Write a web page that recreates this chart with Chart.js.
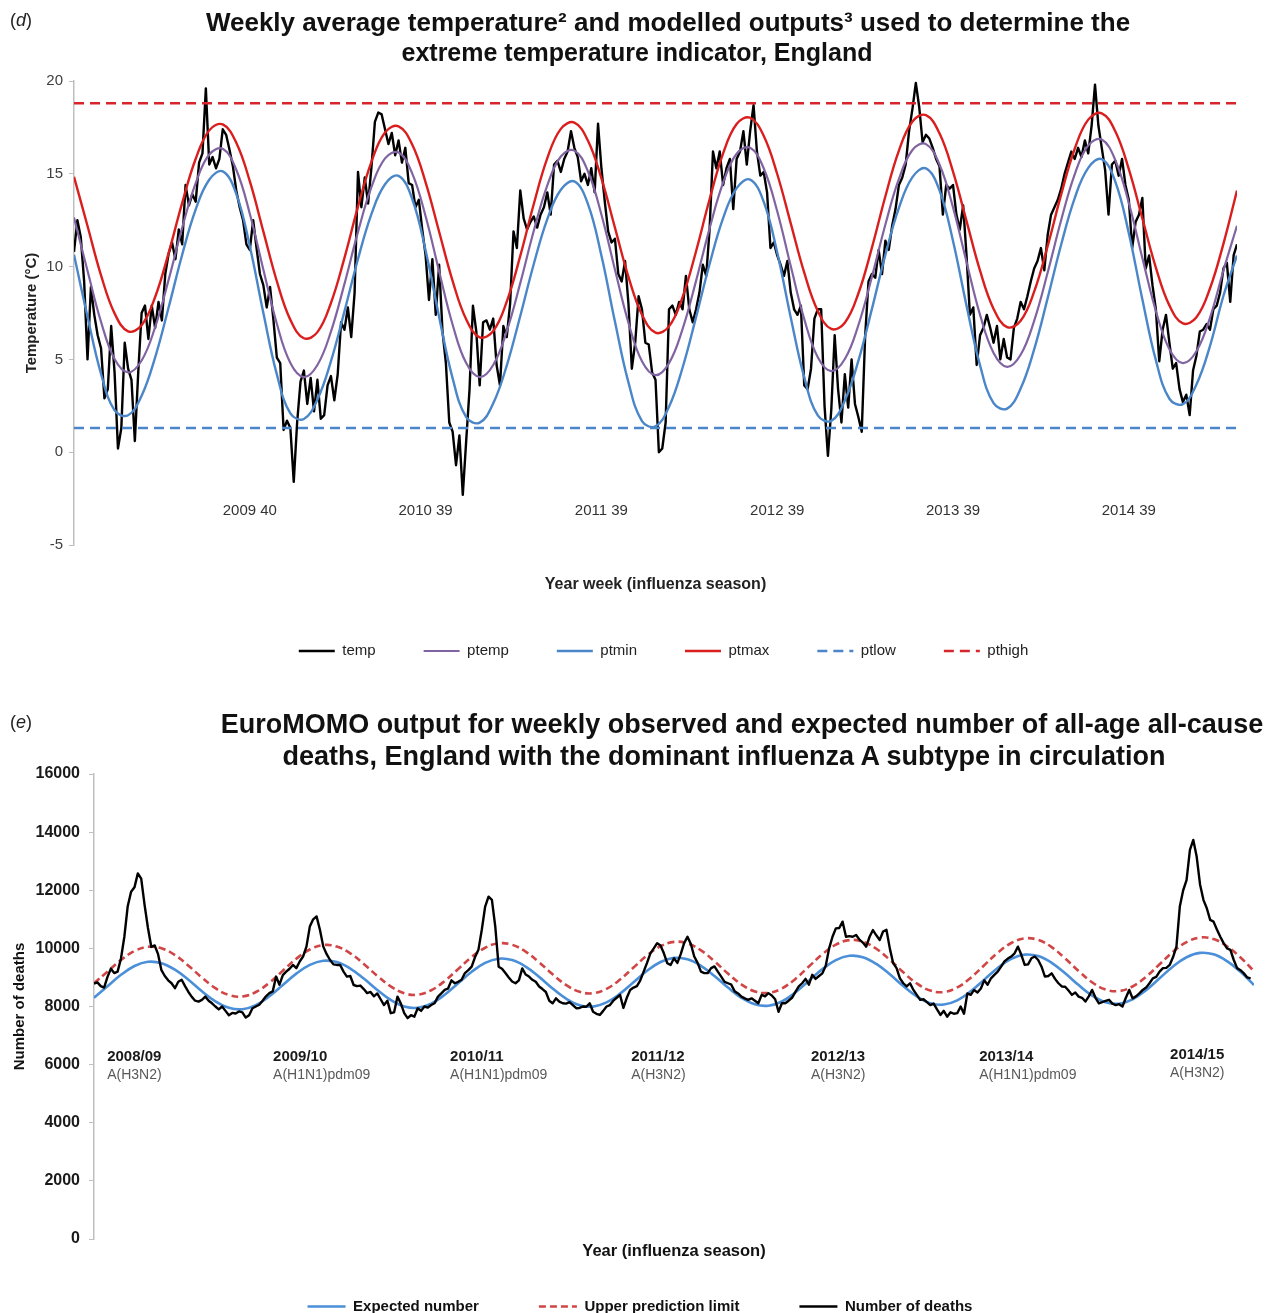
<!DOCTYPE html>
<html>
<head>
<meta charset="utf-8">
<script src="https://cdn.jsdelivr.net/npm/chart.js@4.4.1/dist/chart.umd.min.js"></script>
<style>
  html, body { margin: 0; padding: 0; background: #fff; overflow: hidden; width: 1273px; height: 1313px; }
  canvas { position: absolute; left: 0; }
  .title { position: absolute; left: 0; font-family: "Liberation Sans", Arial, sans-serif; font-weight: bold;
           color: #111; white-space: nowrap; text-align: center; }
  .tag { position: absolute; left: 10px; font-family: "Liberation Sans", Arial, sans-serif; font-size: 18px;
         color: #222; line-height: 22px; }
</style>
</head>
<body>
<canvas id="tempChart" width="1327" height="690" style="top:0"></canvas>
<canvas id="deathChart" width="1280" height="634" style="top:690px"></canvas>

<div class="tag" style="top:9px">(<i>d</i>)</div>
<div class="title" style="top:7px; width:1336px; font-size:26px; line-height:30px">Weekly average temperature² and modelled outputs³ used to determine the</div>
<div class="title" style="top:37px; width:1274px; font-size:25px; line-height:30px">extreme temperature indicator, England</div>

<div class="tag" style="top:711px">(<i>e</i>)</div>
<div class="title" style="top:708px; width:1484px; font-size:27px; line-height:32px">EuroMOMO output for weekly observed and expected number of all-age all-cause</div>
<div class="title" style="top:740px; width:1448px; font-size:27px; line-height:32px">deaths, England with the dominant influenza A subtype in circulation</div>

<script>
// ---- (d) weekly temperature, index 0 = 2008 week 40 ----
const temp = [
  10.8, 12.5, 11.6, 9.2, 5.0, 8.9, 7.4, 6.3, 5.6, 2.9,
  3.4, 6.8, 4.3, 0.2, 1.3, 5.9, 4.5, 3.9, 0.6, 4.3,
  7.5, 7.9, 6.1, 7.9, 6.7, 8.1, 7.1, 9.6, 10.7, 11.3,
  10.4, 12.0, 11.2, 14.4, 13.3, 13.9, 13.5, 15.6, 16.1, 19.6,
  15.5, 15.9, 15.3, 15.8, 17.4, 17.1, 16.3, 15.4, 14.1, 13.2,
  12.5, 11.2, 10.9, 12.5, 11.0, 9.6, 9.0, 7.8, 8.9, 7.1,
  5.1, 4.8, 1.2, 1.7, 1.3, -1.6, 1.6, 3.8, 4.4, 2.6,
  4.0, 2.2, 3.9, 1.8, 2.0, 3.6, 4.1, 2.8, 4.2, 7.0,
  6.6, 7.8, 6.2, 8.6, 15.1, 13.2, 14.8, 13.4, 15.4, 17.8,
  18.3, 18.2, 17.4, 16.6, 17.2, 16.0, 16.8, 15.6, 16.4, 14.5,
  14.4, 13.2, 13.6, 12.0, 10.6, 8.2, 10.4, 7.4, 10.1, 6.5,
  4.8, 1.6, 1.1, -0.7, 0.9, -2.3, 0.6, 3.4, 7.9, 6.5,
  3.6, 7.0, 7.1, 6.6, 7.2, 4.7, 3.6, 6.8, 6.2, 8.0,
  11.9, 11.0, 14.1, 12.6, 12.0, 12.4, 12.7, 12.1, 12.8, 13.2,
  14.0, 12.8, 15.5, 15.7, 15.1, 15.8, 16.2, 17.3, 16.4, 15.9,
  14.6, 15.0, 14.4, 15.3, 14.0, 17.7, 15.3, 13.5, 11.9, 11.3,
  11.5, 9.6, 9.2, 10.3, 8.0, 4.5, 5.9, 8.4, 7.7, 5.9,
  5.8, 4.3, 3.9, 0.0, 0.2, 1.6, 7.7, 7.9, 7.4, 8.1,
  7.7, 9.5, 7.7, 7.0, 7.7, 8.6, 10.1, 9.5, 12.0, 16.2,
  15.3, 16.2, 14.4, 15.3, 15.8, 13.1, 15.8, 16.2, 17.3, 15.5,
  17.3, 18.7, 16.2, 14.9, 15.1, 14.0, 11.0, 11.3, 10.6, 10.1,
  9.5, 10.3, 8.6, 7.7, 7.4, 7.9, 3.6, 3.4, 4.5, 7.2,
  7.7, 7.7, 2.5, -0.2, 2.3, 6.3, 3.4, 1.6, 4.2, 2.4,
  5.0, 2.6, 1.9, 1.1, 6.2, 9.2, 9.6, 9.4, 10.9, 9.6,
  11.4, 10.9, 12.2, 13.1, 14.4, 14.8, 15.5, 17.3, 18.5, 19.9,
  18.6, 16.7, 17.1, 16.9, 16.4, 15.8, 15.4, 12.8, 14.4, 14.2,
  14.4, 12.8, 12.0, 13.3, 10.6, 7.4, 7.8, 4.7, 6.3, 6.7,
  7.4, 6.7, 5.9, 6.8, 5.0, 6.1, 5.1, 5.0, 6.7, 7.2,
  8.1, 7.7, 8.4, 9.2, 9.9, 10.3, 11.0, 9.8, 11.7, 12.8,
  13.2, 13.6, 14.2, 15.0, 15.6, 16.2, 15.8, 16.4, 15.9, 16.8,
  16.1, 17.6, 19.8, 17.6, 16.4, 15.2, 12.8, 15.5, 15.7, 14.9,
  15.8, 14.4, 13.6, 11.0, 12.4, 12.8, 13.7, 9.9, 10.6, 9.0,
  7.7, 4.9, 6.6, 7.4, 5.9, 4.5, 4.8, 3.4, 2.7, 3.1,
  2.0, 4.4, 5.2, 6.5, 6.6, 6.9, 6.6, 7.7, 7.9, 8.6,
  9.9, 10.2, 8.1, 10.6, 11.2
];

// modelled curves, read every 4th week (plus the last week)
const modelWeeks = Array.from({ length: 86 }, (_, i) => i * 4).concat([344]);
const ptemp = [
  12.64, 9.78, 7.02, 5.02, 4.30, 4.94, 6.74, 9.30, 12.09, 14.50, 16.04, 16.35, 15.22,
  12.85, 9.84, 6.92, 4.81, 4.05, 4.70, 6.50, 9.07, 11.87, 14.29, 15.83, 16.15, 15.04,
  12.71, 9.74, 6.87, 4.80, 4.05, 4.70, 6.52, 9.11, 11.93, 14.38, 15.93, 16.25, 15.14,
  12.81, 9.84, 6.97, 4.90, 4.15, 4.80, 6.63, 9.23, 12.06, 14.52, 16.08, 16.40, 15.30,
  12.98, 10.03, 7.17, 5.12, 4.37, 5.02, 6.84, 9.44, 12.27, 14.72, 16.28, 16.60, 15.50,
  13.19, 10.25, 7.40, 5.35, 4.60, 5.25, 7.08, 9.68, 12.51, 14.97, 16.53, 16.85, 15.74,
  13.43, 10.47, 7.61, 5.55, 4.80, 5.44, 7.24, 9.80, 12.2
];
const ptmin = [
  10.64, 7.30, 4.22, 2.26, 1.99, 3.04, 5.11, 7.81, 10.64, 13.08, 14.68, 15.13, 13.92,
  11.10, 7.51, 4.19, 2.09, 1.79, 2.84, 4.90, 7.59, 10.41, 12.84, 14.44, 14.89, 13.67,
  10.87, 7.29, 3.98, 1.89, 1.59, 2.63, 4.67, 7.34, 10.14, 12.56, 14.14, 14.59, 13.38,
  10.60, 7.04, 3.76, 1.68, 1.39, 2.45, 4.55, 7.28, 10.14, 12.61, 14.23, 14.69, 13.50,
  10.76, 7.26, 4.03, 1.98, 1.69, 2.78, 4.92, 7.71, 10.64, 13.16, 14.82, 15.29, 14.11,
  11.38, 7.89, 4.68, 2.64, 2.35, 3.43, 5.54, 8.30, 11.19, 13.69, 15.32, 15.79, 14.58,
  11.80, 8.24, 4.96, 2.88, 2.59, 3.65, 5.72, 8.43, 10.6
];
const ptmax = [
  14.84, 12.19, 9.53, 7.48, 6.51, 6.84, 8.36, 10.74, 13.43, 15.81, 17.34, 17.66, 16.67,
  14.60, 11.90, 9.21, 7.13, 6.14, 6.47, 8.04, 10.47, 13.23, 15.66, 17.23, 17.56, 16.59,
  14.54, 11.88, 9.22, 7.16, 6.19, 6.53, 8.11, 10.58, 13.37, 15.84, 17.42, 17.76, 16.79,
  14.75, 12.10, 9.45, 7.41, 6.44, 6.78, 8.36, 10.83, 13.63, 16.10, 17.68, 18.02, 17.05,
  14.99, 12.33, 9.67, 7.61, 6.64, 6.98, 8.55, 11.01, 13.79, 16.25, 17.82, 18.16, 17.18,
  15.12, 12.45, 9.78, 7.72, 6.74, 7.08, 8.65, 11.11, 13.89, 16.35, 17.92, 18.26, 17.29,
  15.25, 12.60, 9.95, 7.91, 6.94, 7.27, 8.82, 11.24, 14.1
];
const ptlow = 1.3;
const pthigh = 18.8;

const tickWeeks = [52, 104, 156, 208, 260, 312];
const tickLabels = ['2009 40', '2010 39', '2011 39', '2012 39', '2013 39', '2014 39'];

// ---- (e) EuroMOMO weekly deaths ----
const deaths = [
  8790, 8830, 8700, 8650, 9020, 9300, 9150, 9200, 9650, 10400,
  11450, 11950, 12100, 12580, 12400, 11500, 10700, 10050, 10100, 9800,
  9250, 9050, 8900, 8800, 8630, 8850, 8920, 8700, 8500, 8330,
  8200, 8170, 8230, 8340, 8200, 8110, 8000, 7900, 8000, 7850,
  7700, 7780, 7760, 7830, 7800, 7620, 7700, 7940, 8000, 8060,
  8200, 8350, 8460, 8520, 9030, 8750, 9080, 9200, 9300, 9430,
  9320, 9550, 9720, 10060, 10750, 11000, 11100, 10640, 10060, 9800,
  9600, 9450, 9430, 9430, 9200, 9030, 9050, 8740, 8700, 8720,
  8600, 8460, 8500, 8350, 8450, 8250, 8050, 8200, 7770, 7800,
  8340, 8100, 7770, 7600, 7700, 7650, 7940, 7850, 8000, 7960,
  8050, 8110, 8340, 8450, 8570, 8620, 8900, 8800, 8850, 8920,
  9150, 9250, 9370, 9700, 9950, 10640, 11440, 11780, 11670, 10750,
  9370, 9300, 9150, 9000, 8860, 8800, 8900, 9310, 9100, 9030,
  8920, 8850, 8690, 8600, 8500, 8200, 8110, 8280, 8170, 8110,
  8100, 8150, 8050, 7940, 7950, 8000, 7990, 8110, 7820, 7750,
  7710, 7850, 8000, 8050, 8200, 8300, 8400, 7950, 8300, 8570,
  8650, 8700, 8900, 9200, 9500, 9830, 10000, 10180, 10100, 9830,
  9490, 9430, 9660, 9500, 9800, 10180, 10400, 10150, 9720, 9500,
  9200, 9150, 9150, 9320, 9380, 9200, 9030, 8850, 8800, 8750,
  8520, 8450, 8340, 8280, 8230, 8280, 8200, 8110, 8400, 8350,
  8460, 8380, 8250, 7820, 8110, 8110, 8200, 8300, 8500, 8690,
  8800, 8950, 8750, 9090, 8950, 9050, 9140, 9400, 10000, 10400,
  10690, 10700, 10920, 10400, 10420, 10400, 10460, 10300, 10200, 10060,
  10400, 10630, 10450, 10290, 10580, 10640, 10000, 9490, 9320, 8970,
  8800, 8690, 8800, 8570, 8400, 8230, 8250, 8150, 8050, 8100,
  7900, 7710, 7850, 7650, 7800, 7750, 7770, 8000, 7750, 8450,
  8400, 8570, 8480, 8620, 8900, 8750, 8970, 9090, 9200, 9370,
  9550, 9650, 9720, 9830, 10060, 9780, 9430, 9450, 9660, 9720,
  9600, 9370, 9030, 9050, 9140, 8950, 8800, 8690, 8680, 8550,
  8400, 8480, 8340, 8300, 8170, 8350, 8570, 8300, 8110, 8150,
  8190, 8230, 8100, 8050, 8080, 8000, 8300, 8570, 8280, 8350,
  8450, 8570, 8650, 8800, 8970, 9020, 9200, 9320, 9330, 9430,
  9700, 10060, 11440, 12000, 12350, 13390, 13730, 13160, 12200, 11670,
  11380, 10980, 10920, 10650, 10400, 10180, 10000, 9950, 9600, 9320,
  9250, 9140, 9000, 8970
];
const expected = [
  8300, 8695, 9090, 9395, 9539, 9491, 9268, 8919, 8526, 8177, 7954, 7906, 8049,
  8350, 8740, 9130, 9431, 9574, 9527, 9305, 8960, 8570, 8225, 8003, 7956, 8100,
  8405, 8800, 9195, 9500, 9644, 9596, 9370, 9019, 8621, 8270, 8044, 7996, 8140,
  8442, 8835, 9228, 9530, 9674, 9626, 9400, 9049, 8651, 8300, 8074, 8026, 8173,
  8483, 8885, 9287, 9597, 9744, 9695, 9465, 9107, 8703, 8345, 8115, 8066, 8213,
  8523, 8925, 9327, 9637, 9784, 9735, 9504, 9143, 8737, 8376, 8145, 8096, 8246,
  8561, 8970, 9379, 9694, 9844, 9794, 9559, 9192, 8740
];
const upperLimit = [
  8800, 9200, 9600, 9908, 10054, 10004, 9770, 9406, 8994, 8630, 8396, 8346, 8498,
  8816, 9230, 9644, 9962, 10114, 10064, 9830, 9466, 9054, 8690, 8456, 8406, 8558,
  8876, 9290, 9704, 10022, 10174, 10124, 9889, 9522, 9108, 8741, 8506, 8456, 8608,
  8926, 9340, 9754, 10072, 10224, 10172, 9932, 9557, 9133, 8758, 8518, 8467, 8622,
  8950, 9375, 9800, 10128, 10283, 10232, 9987, 9605, 9175, 8793, 8548, 8497, 8655,
  8988, 9420, 9852, 10185, 10343, 10291, 10043, 9656, 9219, 8832, 8584, 8532, 8689,
  9021, 9452, 9884, 10216, 10373, 10321, 10073, 9688, 9220
];

const seasons = ['2008/09', '2009/10', '2010/11', '2011/12', '2012/13', '2013/14', '2014/15'];
const subtypes = ['A(H3N2)', 'A(H1N1)pdm09', 'A(H1N1)pdm09', 'A(H3N2)', 'A(H3N2)', 'A(H1N1)pdm09', 'A(H3N2)'];
// where each season caption sits (week, deaths)
const seasonAnchorWeek = [3.9, 53.1, 105.6, 159.3, 212.6, 262.5, 319.1];
const seasonAnchorDeaths = [6264, 6264, 6264, 6264, 6264, 6264, 6340];

Chart.defaults.font.family = '"Liberation Sans", Arial, sans-serif';
Chart.defaults.animation = false;

const toPoints = (xs, ys) => ys.map((v, i) => ({ x: xs[i], y: v }));
const weekIndex = arr => arr.map((_, i) => i);

function lineLegend(chart) {
  const items = Chart.defaults.plugins.legend.labels.generateLabels(chart);
  items.forEach(it => {
    const ds = chart.data.datasets[it.datasetIndex];
    it.lineDash = ds.borderDash || [];
    it.lineWidth = ds.borderWidth;
    it.strokeStyle = ds.borderColor;
    it.pointStyle = 'line';
  });
  return items.sort((a, b) => a.datasetIndex - b.datasetIndex);
}

// empty right-hand axis that only reserves space, so the legend stays centred on the canvas
const spacer = w => ({
  type: 'linear', position: 'right', min: 0, max: 1,
  grid: { display: false }, border: { display: false }, ticks: { display: false },
  afterFit: s => { s.width = w; }
});

new Chart(document.getElementById('tempChart'), {
  type: 'line',
  data: {
    datasets: [
      { label: 'temp', data: toPoints(weekIndex(temp), temp), borderColor: '#000', borderWidth: 2.4, order: 6 },
      { label: 'ptemp', data: toPoints(modelWeeks, ptemp), borderColor: '#8064A2', borderWidth: 2.2, tension: 0.4, order: 5 },
      { label: 'ptmin', data: toPoints(modelWeeks, ptmin), borderColor: '#4A86C8', borderWidth: 2.4, tension: 0.4, order: 4 },
      { label: 'ptmax', data: toPoints(modelWeeks, ptmax), borderColor: '#DA1E1E', borderWidth: 2.4, tension: 0.4, order: 3 },
      { label: 'ptlow', data: [{ x: 0, y: ptlow }, { x: 344, y: ptlow }], borderColor: '#4A86C8', borderWidth: 2.6, borderDash: [10, 6], order: 2 },
      { label: 'pthigh', data: [{ x: 0, y: pthigh }, { x: 344, y: pthigh }], borderColor: '#D7262B', borderWidth: 2.6, borderDash: [10, 6], order: 1 }
    ]
  },
  options: {
    responsive: false,
    layout: { padding: { top: 81, right: 0, bottom: 21.5, left: 0 } },
    elements: { point: { radius: 0, pointStyle: 'line' }, line: { borderJoinStyle: 'round' } },
    plugins: {
      tooltip: { enabled: false },
      legend: {
        position: 'bottom',
        labels: {
          usePointStyle: true, pointStyleWidth: 36, padding: 48, color: '#222',
          font: { size: 15 }, generateLabels: lineLegend
        }
      }
    },
    scales: {
      x: {
        type: 'linear', min: 0, max: 344,
        grid: { display: false, drawTicks: false },
        border: { display: false },
        afterBuildTicks: s => { s.ticks = tickWeeks.map(v => ({ value: v })); },
        ticks: {
          autoSkip: false, maxRotation: 0, mirror: true, padding: 25, color: '#333', font: { size: 15 },
          callback: v => tickLabels[tickWeeks.indexOf(v)]
        },
        title: { display: true, text: 'Year week (influenza season)', color: '#222',
                 font: { size: 16, weight: 'bold' }, padding: { top: 0, bottom: 1 } },
        afterFit: s => { s.height = 50.5; }
      },
      y: {
        min: -5, max: 20,
        ticks: { stepSize: 5, color: '#404040', font: { size: 15 }, padding: 6 },
        grid: { drawOnChartArea: false, tickLength: 5, color: '#bfbfbf' },
        border: { color: '#bfbfbf', width: 1.5 },
        title: { display: true, text: 'Temperature (°C)', color: '#222',
                 font: { size: 15, weight: 'bold' }, padding: { top: 23, bottom: 0 } },
        afterFit: s => { s.width = 74; }
      },
      pad: spacer(90)
    }
  }
});

const seasonCaptions = {
  id: 'seasonCaptions',
  afterDatasetsDraw(chart) {
    const { ctx, scales: { x, y } } = chart;
    ctx.save();
    ctx.textAlign = 'left';
    ctx.textBaseline = 'middle';
    seasons.forEach((s, i) => {
      const px = x.getPixelForValue(seasonAnchorWeek[i]);
      const py = y.getPixelForValue(seasonAnchorDeaths[i]);
      ctx.font = 'bold 15px "Liberation Sans", Arial, sans-serif';
      ctx.fillStyle = '#1a1a1a';
      ctx.fillText(s, px, py);
      ctx.font = '14px "Liberation Sans", Arial, sans-serif';
      ctx.fillStyle = '#595959';
      ctx.fillText(subtypes[i], px, py + 18);
    });
    ctx.restore();
  }
};

new Chart(document.getElementById('deathChart'), {
  type: 'line',
  data: {
    datasets: [
      { label: 'Expected number', data: toPoints(modelWeeks, expected), borderColor: '#4A8FD8', borderWidth: 2.6, tension: 0.4, order: 3 },
      { label: 'Upper prediction limit', data: toPoints(modelWeeks, upperLimit), borderColor: '#D04545', borderWidth: 2.6, borderDash: [7, 4], tension: 0.4, order: 2 },
      { label: 'Number of deaths', data: toPoints(weekIndex(deaths), deaths), borderColor: '#000', borderWidth: 2.4, order: 1 }
    ]
  },
  plugins: [seasonCaptions],
  options: {
    responsive: false,
    layout: { padding: { top: 84, right: 0, bottom: 0, left: 0 } },
    elements: { point: { radius: 0, pointStyle: 'line' }, line: { borderJoinStyle: 'round' } },
    plugins: {
      tooltip: { enabled: false },
      legend: {
        position: 'bottom',
        labels: {
          usePointStyle: true, pointStyleWidth: 38, padding: 60, color: '#111',
          font: { size: 15, weight: 'bold' }, generateLabels: lineLegend
        }
      }
    },
    scales: {
      x: {
        type: 'linear', min: 0, max: 344, position: { y: 0 },
        grid: { display: false, drawTicks: false },
        border: { display: false },
        ticks: { display: false },
        title: { display: true, text: 'Year (influenza season)', color: '#111',
                 font: { size: 16.5, weight: 'bold' }, padding: 0 },
        afterFit: s => { s.height = 22; }
      },
      y: {
        min: 0, max: 16000,
        ticks: { stepSize: 2000, color: '#1a1a1a', font: { size: 16, weight: 'bold' }, padding: 9,
                 callback: v => String(v) },
        grid: { drawOnChartArea: false, tickLength: 5, color: '#bfbfbf' },
        border: { color: '#bfbfbf', width: 1.5 },
        title: { display: true, text: 'Number of deaths', color: '#111',
                 font: { size: 15, weight: 'bold' }, padding: { top: 11, bottom: 0 } },
        afterFit: s => { s.width = 94; }
      },
      pad: spacer(26)
    }
  }
});
</script>
</body>
</html>
